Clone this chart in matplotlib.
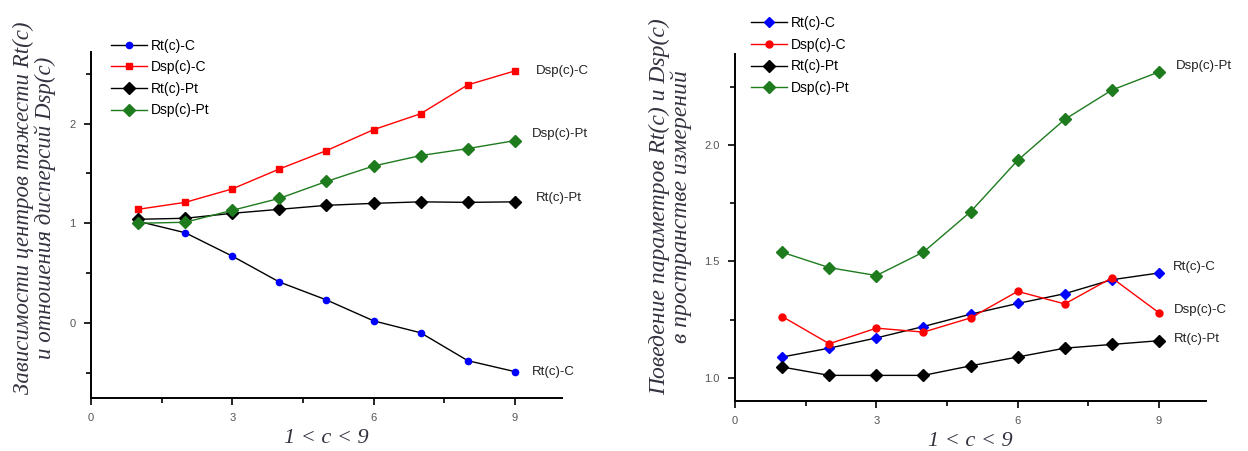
import matplotlib
matplotlib.use("Agg")
import matplotlib.pyplot as plt
from matplotlib.ticker import MultipleLocator

c_vals = [1, 2, 3, 4, 5, 6, 7, 8, 9]

# левый график
rt_c_left = [1.02, 0.905, 0.67, 0.41, 0.23, 0.02, -0.10, -0.38, -0.49]
dsp_c_left = [1.14, 1.21, 1.345, 1.545, 1.73, 1.94, 2.10, 2.39, 2.53]
rt_pt_left = [1.04, 1.05, 1.10, 1.14, 1.18, 1.20, 1.215, 1.21, 1.215]
dsp_pt_left = [1.00, 1.01, 1.13, 1.25, 1.42, 1.575, 1.68, 1.75, 1.83]

# правый график
rt_c_right = [1.089, 1.127, 1.171, 1.22, 1.273, 1.319, 1.361, 1.421, 1.45]
dsp_c_right = [1.263, 1.146, 1.213, 1.196, 1.257, 1.371, 1.317, 1.429, 1.279]
rt_pt_right = [1.046, 1.01, 1.01, 1.01, 1.051, 1.089, 1.127, 1.143, 1.159]
dsp_pt_right = [1.539, 1.473, 1.439, 1.54, 1.713, 1.934, 2.11, 2.236, 2.314]

nombres = ["Rt(c)-C", "Dsp(c)-C", "Rt(c)-Pt", "Dsp(c)-Pt"]
verde = "#1e7b1e"
color_linea = ["black", "red", "black", verde]
color_marca = ["blue", "red", "black", verde]

texto_gris = "#333340"
serif = "Liberation Serif"
sans = "Liberation Sans"

fig = plt.figure(figsize=(12.48, 4.51), dpi=100)
ax1 = fig.add_axes([0.0729, 0.1175, 0.3774, 0.7672])
ax2 = fig.add_axes([0.589, 0.1109, 0.3774, 0.7694])


def estilo(ax, ylim, ymajor, yminor, fmt):
    ax.set_xlim(0, 10)
    ax.set_ylim(*ylim)
    ax.spines["top"].set_visible(False)
    ax.spines["right"].set_visible(False)
    ax.spines["left"].set_linewidth(1.4)
    ax.spines["bottom"].set_linewidth(1.4)
    ax.xaxis.set_major_locator(MultipleLocator(3))
    ax.xaxis.set_minor_locator(MultipleLocator(1.5))
    ax.yaxis.set_major_locator(MultipleLocator(ymajor))
    ax.yaxis.set_minor_locator(MultipleLocator(yminor))
    ax.yaxis.set_major_formatter(fmt)
    ax.tick_params(which="major", length=5, width=1.2, labelsize=8,
                   labelcolor="#555555", pad=6)
    ax.tick_params(which="minor", length=3.5, width=1.2)
    for lab in ax.get_xticklabels() + ax.get_yticklabels():
        lab.set_family(sans)


def dibujar(ax, series, marcas, tamanos):
    for nombre, ys, lc, mc, mk, ms in zip(nombres, series, color_linea,
                                          color_marca, marcas, tamanos):
        ax.plot(c_vals, ys, color=lc, lw=1.0, marker=mk, ms=ms,
                markerfacecolor=mc, markeredgecolor=mc, label=nombre)


# ---- izquierda
series_l = [rt_c_left, dsp_c_left, rt_pt_left, dsp_pt_left]
dibujar(ax1, series_l, ["o", "s", "D", "D"], [4.5, 4.5, 6.5, 6.5])
estilo(ax1, (-0.755, 2.72), 1, 0.5, "{x:.0f}")
ax1.legend(loc="upper left", bbox_to_anchor=(0.03, 1.055), frameon=False,
           prop={"family": sans, "size": 10}, handlelength=2.6,
           labelspacing=0.55, handletextpad=0.3, borderaxespad=0)

etiquetas_l = {"Dsp(c)-C": dsp_c_left, "Dsp(c)-Pt": dsp_pt_left,
               "Rt(c)-Pt": rt_pt_left, "Rt(c)-C": rt_c_left}
desplaz_l = {"Dsp(c)-C": (15, 0), "Dsp(c)-Pt": (12, 5),
             "Rt(c)-Pt": (15, 3), "Rt(c)-C": (12, 0)}
for nombre, ys in etiquetas_l.items():
    ax1.annotate(nombre, (c_vals[-1], ys[-1]), xytext=desplaz_l[nombre],
                 textcoords="offset points", va="center", ha="left",
                 fontsize=9.5, family=sans, color="#222222")

ax1.set_xlabel("1 < c < 9", family=serif, style="italic", fontsize=16,
               color=texto_gris, labelpad=4)
ax1.set_ylabel("Зависимости центров тяжести Rt(c)\nи отношения дисперсий Dsp(c)",
               family=serif, style="italic", fontsize=16.5, color=texto_gris,
               linespacing=1.0)
ax1.yaxis.set_label_coords(-0.074, 0.55)

# ---- derecha
series_r = [rt_c_right, dsp_c_right, rt_pt_right, dsp_pt_right]
dibujar(ax2, series_r, ["D", "o", "D", "D"], [5.5, 5, 6.5, 6.5])
estilo(ax2, (0.90, 2.391), 0.5, 0.25, "{x:.1f}")
ax2.legend(loc="upper left", bbox_to_anchor=(0.021, 1.125), frameon=False,
           prop={"family": sans, "size": 10}, handlelength=2.6,
           labelspacing=0.55, handletextpad=0.3, borderaxespad=0)

etiquetas_r = {"Dsp(c)-Pt": dsp_pt_right, "Rt(c)-C": rt_c_right,
               "Dsp(c)-C": dsp_c_right, "Rt(c)-Pt": rt_pt_right}
desplaz_r = {"Dsp(c)-Pt": (12, 4), "Rt(c)-C": (10, 4),
             "Dsp(c)-C": (11, 2), "Rt(c)-Pt": (11, 1)}
for nombre, ys in etiquetas_r.items():
    ax2.annotate(nombre, (c_vals[-1], ys[-1]), xytext=desplaz_r[nombre],
                 textcoords="offset points", va="center", ha="left",
                 fontsize=9.5, family=sans, color="#222222")

ax2.set_xlabel("1 < c < 9", family=serif, style="italic", fontsize=16,
               color=texto_gris, labelpad=4)
ax2.set_ylabel("Поведение параметров Rt(c) и Dsp(c)\nв пространстве измерений",
               family=serif, style="italic", fontsize=17, color=texto_gris,
               linespacing=1.0)
ax2.yaxis.set_label_coords(-0.091, 0.56)

fig.savefig("out.png", dpi=100)
